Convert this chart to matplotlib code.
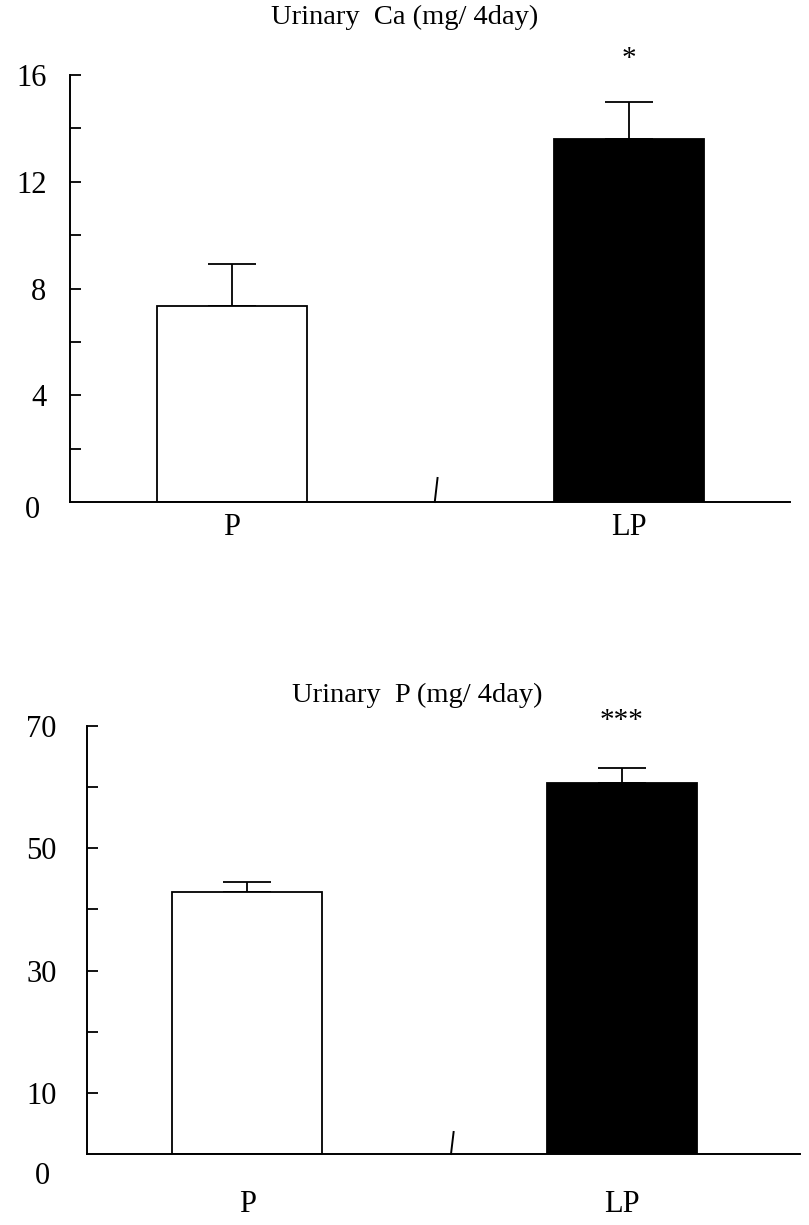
import numpy as np
import matplotlib
matplotlib.use("Agg")
import matplotlib.pyplot as plt

plt.rcParams['font.family'] = ['Liberation Serif', 'DejaVu Serif']

# data
groups = ["P", "LP"]
ca_mean = [7.35, 13.6]
ca_err = [1.55, 1.4]
p_mean = [42.9, 60.7]
p_err = [1.6, 2.5]
ca_stars = ["", "*"]
p_stars = ["", "***"]
bar_colors = ["white", "black"]

W, H = 809, 1225
fig = plt.figure(figsize=(W / 100, H / 100), dpi=100)


def px_axes(left, right, top, bottom):
    return fig.add_axes([left / W, 1 - bottom / H, (right - left) / W, (bottom - top) / H])


def panel(ax, means, errs, stars, ymax, major, minor, labels, xlim, width,
          break_x, break_h, star_y, ylab_pad, xlab_pad, zero_off):
    x = np.arange(len(groups))
    ax.bar(x, means, width=width, color=bar_colors, edgecolor="black", linewidth=1.3, zorder=2)
    ax.errorbar(x, means, yerr=[np.zeros(len(errs)), errs], fmt="none", ecolor="black",
                elinewidth=1.3, capsize=17, capthick=1.3, zorder=1)
    for xi, s in zip(x, stars):
        if s:
            ax.text(xi, star_y, s, ha="center", va="center", fontsize=21, clip_on=False)
    ax.set_xlim(*xlim)
    ax.set_ylim(0, ymax)
    ax.spines["top"].set_visible(False)
    ax.spines["right"].set_visible(False)
    for sp in ("left", "bottom"):
        ax.spines[sp].set_linewidth(1.4)
    ax.set_yticks(major)
    ax.set_yticklabels(labels)
    ax.set_yticks(minor, minor=True)
    ax.tick_params(axis="y", which="both", direction="in", length=8, width=1.3,
                   labelsize=22, pad=ylab_pad)
    ax.set_xticks(x)
    ax.set_xticklabels(groups)
    ax.tick_params(axis="x", length=0, labelsize=22, pad=xlab_pad)
    # zero label sits a bit below the axis line
    ax.annotate("0", xy=(0, 0), xycoords=("axes fraction", "data"),
                xytext=(-ylab_pad * 100 / 72 - 6, -zero_off), textcoords="offset pixels",
                ha="right", va="center", fontsize=22, annotation_clip=False)
    ax.plot([break_x, break_x + 0.007], [0, break_h], color="black", lw=1.4, clip_on=False)


ax1 = px_axes(70, 790, 75, 502)
panel(ax1, ca_mean, ca_err, ca_stars, 16, [4, 8, 12, 16], [2, 6, 10, 14],
      ["4", "8", "12", "16"], (-0.408, 1.406), 0.378, 0.511, 0.9, 16.6,
      17, 8, 8)

ax2 = px_axes(87, 800, 726, 1154)
panel(ax2, p_mean, p_err, p_stars, 70, [10, 30, 50, 70], [20, 40, 60],
      ["10", "30", "50", "70"], (-0.427, 1.475), 0.4, 0.544, 3.6, 70.8,
      22, 26, 23)

fig.text(405 / W, 1 - 17 / H, "Urinary  Ca (mg/ 4day)", ha="center", va="center", fontsize=20.5)
fig.text(417 / W, 1 - 695 / H, "Urinary  P (mg/ 4day)", ha="center", va="center", fontsize=20.5)

fig.savefig("out.png", dpi=100)
